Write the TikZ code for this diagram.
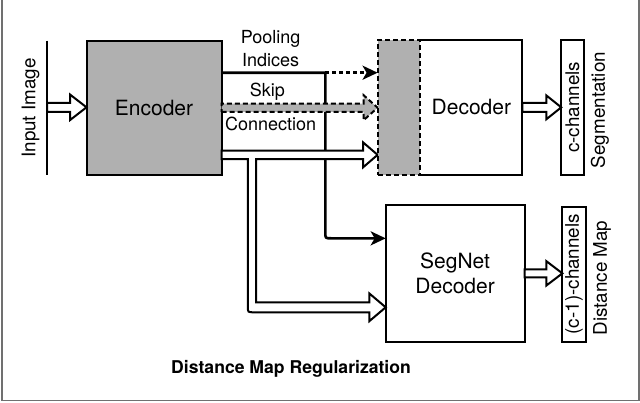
\documentclass[tikz,border=0pt]{standalone}
\usepackage{fontspec}
\setmainfont{TeX Gyre Heros}
\usetikzlibrary{arrows.meta,calc}
\definecolor{boxgray}{RGB}{176,176,176}
\definecolor{framegray}{RGB}{112,112,112}
\newcommand\blockarr[6]{% style, from, to, shaft half, head half, head length
  \path[#1] let \p1=(#2), \p2=(#3) in
    (\x1,\y1-#4) -- (\x2-#6,\y1-#4) -- (\x2-#6,\y1-#5) -- (\x2,\y1)
    -- (\x2-#6,\y1+#5) -- (\x2-#6,\y1+#4) -- (\x1,\y1+#4) -- cycle;}
\begin{document}
\begin{tikzpicture}[x=1pt,y=-1pt,
  box/.style={draw, line width=2pt, inner sep=0pt, outer sep=0pt},
  hollow/.style={draw, fill=white, line width=2pt, line join=miter},
  skipsty/.style={draw, fill=boxgray, line width=2pt, dash pattern=on 5pt off 3pt, line join=miter},
  poolsty/.style={line width=2.6pt},
  dotsty/.style={line width=3.4pt, dash pattern=on 4pt off 3pt},
  tip/.style={-{Stealth[length=15pt,width=14pt,inset=4pt]}},
  lbl/.style={font=\fontsize{18}{21}\selectfont, inner sep=0pt},
  big/.style={font=\fontsize{21}{24.3}\selectfont},
  rotfont/.style={font=\fontsize{18.8}{22}\selectfont},
  rot/.style={rotfont, rotate=90, inner sep=0pt},
]
\useasboundingbox (0,0) rectangle (640,402);
% frame
\draw[framegray, line width=1.6pt] (2,-5) -- (2,400.5) -- (638.8,400.5) -- (638.8,-5);

% input image
\coordinate (in1) at (47,40.7);
\coordinate (in2) at (47,174.7);
\draw[line width=2pt] (in1) -- (in2);
\node[rot] (intxt) at (30.6,108) {Input Image};

% boxes
\node[box, fill=boxgray, minimum width=135pt, minimum height=134pt, big] (enc) at (154,107.7) {Encoder};
\node[inner sep=0pt, outer sep=0pt, minimum width=102pt, minimum height=134.7pt, big] (dec) at (471.4,107.35) {Decoder};
\node[box, minimum width=134.7pt, minimum height=22.5pt, rotate=90, rotfont] (cch) at (572.5,107.35) {c-channels};
\node[rot] (segtxt) at (600,110) {Segmentation};
\node[box, minimum width=138.8pt, minimum height=136.7pt, big, align=center] (segb) at (455.1,273.35) {SegNet\\Decoder};
\node[box, minimum width=135pt, minimum height=23.3pt, rotate=90, rotfont] (c1ch) at (574,274.2) {(c-1)-channels};
\node[rot] (dmtxt) at (602,278) {Distance Map};

% labels
\node[lbl] (pool) at (270.6,39.3) {Pooling};
\node[lbl] (ind) at (270.6,60) {Indices};
\node[lbl] (skip) at (267.3,91.7) {Skip};
\node[lbl] (conn) at (270.6,124.3) {Connection};

% pooling indices
\coordinate (P) at ($(enc.north east)+(0,32)$);
\coordinate (Pt) at (325.3,72.7);
\draw[poolsty, tip] (P) -- (Pt) -- (325.3,232.3) .. controls (325.3,238.3) .. (331.3,238.3) -- ($(segb.west)+(0,-35)$);
\draw[dotsty, tip] (Pt) -- (377.6,72.7);

% skip connection
\blockarr{skipsty}{enc.east}{377.6,107.7}{4.2pt}{12.5pt}{14pt}

% hollow arrow to decoder and SegNet decoder
\path[hollow] (221.6,150.7) -- (363,150.7) -- (363,142.3) -- (377.6,154.85) -- (363,167.4) -- (363,159)
  -- (256,159) -- (256,302.3) -- (369.4,302.3) -- (369.4,293.5) -- (385.7,307.3) -- (369.4,321.1)
  -- (369.4,312.3) -- (253.8,312.3) .. controls (247.8,312.3) .. (247.8,306.3) -- (247.8,159) -- (221.6,159) -- cycle;

% dashed gray block and decoder frame
\node[fill=boxgray, draw, line width=2pt, dash pattern=on 5pt off 3pt, minimum width=42.8pt, minimum height=134.7pt, inner sep=0pt, outer sep=0pt] (skipblk) at (399,107.35) {};
\draw[line width=2pt] (dec.north west) -- (dec.north east) -- (dec.south east) -- (dec.south west);

% input and output arrows
\blockarr{hollow}{in1 |- 0,107.3}{enc.west}{4.5pt}{12.8pt}{16.5pt}
\blockarr{hollow}{dec.east}{cch.north}{4.5pt}{12pt}{15pt}
\blockarr{hollow}{segb.east}{c1ch.north}{4pt}{12.2pt}{16pt}

% title
\node[font=\bfseries\fontsize{17.6}{20}\selectfont] (title) at (291,369.3) {Distance Map Regularization};
\end{tikzpicture}
\end{document}
